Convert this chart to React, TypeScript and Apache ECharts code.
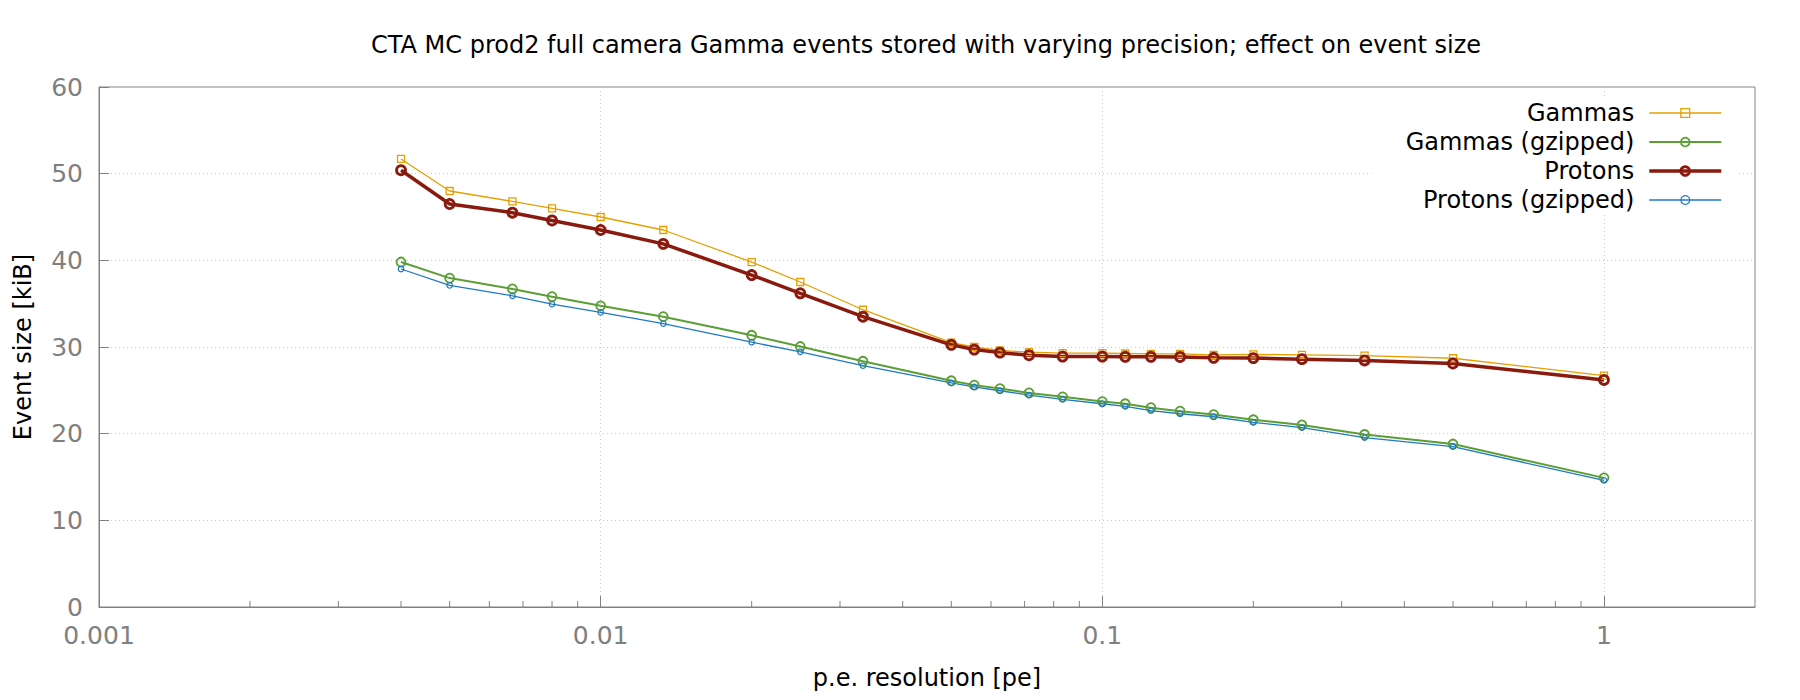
import React, { useEffect, useRef } from "react";
import * as echarts from "echarts";

const titleText =
  "CTA MC prod2 full camera Gamma events stored with varying precision; effect on event size";
const xAxisName = "p.e. resolution [pe]";
const yAxisName = "Event size [kiB]";

const resolution = [
  0.004, 0.005, 0.00667, 0.008, 0.01, 0.01333, 0.02, 0.025, 0.03333, 0.05,
  0.05556, 0.0625, 0.07143, 0.08333, 0.1, 0.1111, 0.125, 0.1429, 0.1667, 0.2,
  0.25, 0.3333, 0.5, 1,
];

const gammas = [
  51.7, 48.0, 46.8, 46.0, 45.0, 43.5, 39.8, 37.5, 34.3, 30.5, 30.0, 29.6, 29.4,
  29.3, 29.3, 29.25, 29.2, 29.2, 29.1, 29.15, 29.1, 29.0, 28.7, 26.7,
];
const gammasGz = [
  39.8, 37.95, 36.7, 35.8, 34.75, 33.5, 31.35, 30.05, 28.35, 26.1, 25.6, 25.2,
  24.7, 24.25, 23.7, 23.45, 23.0, 22.6, 22.2, 21.6, 21.0, 19.9, 18.8, 14.9,
];
const protons = [
  50.4, 46.5, 45.5, 44.6, 43.5, 41.9, 38.3, 36.2, 33.5, 30.25, 29.7, 29.35,
  29.05, 28.9, 28.9, 28.87, 28.87, 28.85, 28.75, 28.72, 28.6, 28.45, 28.1, 26.2,
];
const protonsGz = [
  39.0, 37.1, 35.9, 34.95, 34.0, 32.7, 30.55, 29.45, 27.85, 25.85, 25.4, 24.95,
  24.45, 23.95, 23.45, 23.15, 22.65, 22.3, 21.95, 21.3, 20.7, 19.55, 18.5, 14.6,
];

const seriesNames = ["Gammas", "Gammas (gzipped)", "Protons", "Protons (gzipped)"];

const minorTickValues = [
  0.002, 0.003, 0.004, 0.005, 0.006, 0.007, 0.008, 0.009, 0.02, 0.03, 0.04,
  0.05, 0.06, 0.07, 0.08, 0.09, 0.2, 0.3, 0.4, 0.5, 0.6, 0.7, 0.8, 0.9,
];
const xTickLabels = ["0.001", "0.01", "0.1", "1"];

const FONT = "DejaVu Sans";
const GRAY = "#808080";

export default function App() {
  const ref = useRef<HTMLDivElement>(null);
  useEffect(() => {
    if (!ref.current) return;
    const chart = echarts.init(ref.current, null, { renderer: "svg" });

    const mk = (
      name: string,
      values: number[],
      color: string,
      symbol: string,
      symbolSize: number,
      lineWidth: number,
      borderWidth: number
    ) => ({
      name,
      type: "line",
      data: resolution.map((x, i) => [x, values[i]]),
      symbol,
      symbolSize,
      showAllSymbol: true,
      lineStyle: { color, width: lineWidth },
      itemStyle: { color: "rgba(0,0,0,0)", borderColor: color, borderWidth },
      emphasis: { disabled: true },
      z: 3,
    });

    const option: any = {
      animation: false,
      backgroundColor: "#ffffff",
      textStyle: { fontFamily: FONT },
      title: {
        text: titleText,
        left: 926,
        top: 33,
        padding: 0,
        textAlign: "center",
        textStyle: { fontFamily: FONT, fontSize: 24, fontWeight: "normal", color: "#000" },
      },
      legend: {
        orient: "vertical",
        right: 61,
        top: 98,
        align: "right",
        padding: [3, 16, 3, 34],
        backgroundColor: "#ffffff",
        itemWidth: 72,
        itemHeight: 11,
        itemGap: 5,
        data: seriesNames,
        selectedMode: false,
        lineStyle: { width: "inherit" },
        itemStyle: { borderWidth: "inherit" },
        textStyle: {
          fontFamily: FONT,
          fontSize: 24,
          color: "#000",
          padding: [0, 10, 0, 0],
        },
      },
      grid: {
        left: 99,
        right: 45,
        top: 87,
        bottom: 93,
        show: true,
        borderColor: GRAY,
        borderWidth: 1,
        backgroundColor: "rgba(0,0,0,0)",
        containLabel: false,
        outerBoundsMode: "none",
      },
      xAxis: {
        type: "log",
        logBase: 10,
        min: 0.001,
        max: 2,
        name: xAxisName,
        nameLocation: "middle",
        nameGap: 59,
        nameTextStyle: { fontFamily: FONT, fontSize: 24, color: "#000" },
        axisLine: { show: true, lineStyle: { color: GRAY, width: 1 } },
        axisTick: { show: true, inside: true, length: 11, lineStyle: { color: GRAY } },
        axisLabel: {
          fontFamily: FONT,
          fontSize: 25,
          color: GRAY,
          margin: 16,
          showMaxLabel: false,
          formatter: (v: number) => {
            const l = Math.log10(v);
            if (Math.abs(l - Math.round(l)) > 1e-6) return "";
            const idx = Math.round(l) + 3;
            return xTickLabels[idx] ?? "";
          },
        },
        splitLine: {
          show: true,
          lineStyle: { color: "#c8c8c8", width: 1, type: [1, 3] },
        },
      },
      yAxis: {
        type: "value",
        min: 0,
        max: 60,
        interval: 10,
        name: yAxisName,
        nameLocation: "middle",
        nameGap: 64,
        nameTextStyle: { fontFamily: FONT, fontSize: 24, color: "#000" },
        axisLine: { show: true, lineStyle: { color: GRAY, width: 1 } },
        axisTick: { show: true, inside: true, length: 10, lineStyle: { color: GRAY } },
        axisLabel: { fontFamily: FONT, fontSize: 25, color: GRAY, margin: 16 },
        splitLine: {
          show: true,
          lineStyle: { color: "#c8c8c8", width: 1, type: [1, 3] },
        },
      },
      series: [
        {
          name: "minorTicks",
          type: "custom",
          silent: true,
          clip: false,
          data: minorTickValues.map((v) => [v, 0]),
          encode: { x: 0, y: 1 },
          renderItem: (params: any, api: any) => {
            const p = api.coord([api.value(0), api.value(1)]);
            return {
              type: "line",
              shape: { x1: p[0], y1: p[1], x2: p[0], y2: p[1] - 6 },
              style: { stroke: GRAY, lineWidth: 1 },
            };
          },
          z: 2,
        },
        mk(seriesNames[0], gammas, "#e69f00", "rect", 7, 1.3, 1.3),
        mk(seriesNames[1], gammasGz, "#5b9e35", "circle", 9, 2, 1.8),
        mk(seriesNames[2], protons, "#8b1a0e", "circle", 9, 3.5, 2.8),
        mk(seriesNames[3], protonsGz, "#1f78c4", "circle", 5.5, 1.3, 1.2),
      ],
    };

    chart.setOption(option);
    return () => chart.dispose();
  }, []);

  return (
    <div
      ref={ref}
      style={{ position: "absolute", left: 0, top: 0, width: 1800, height: 700 }}
    />
  );
}
